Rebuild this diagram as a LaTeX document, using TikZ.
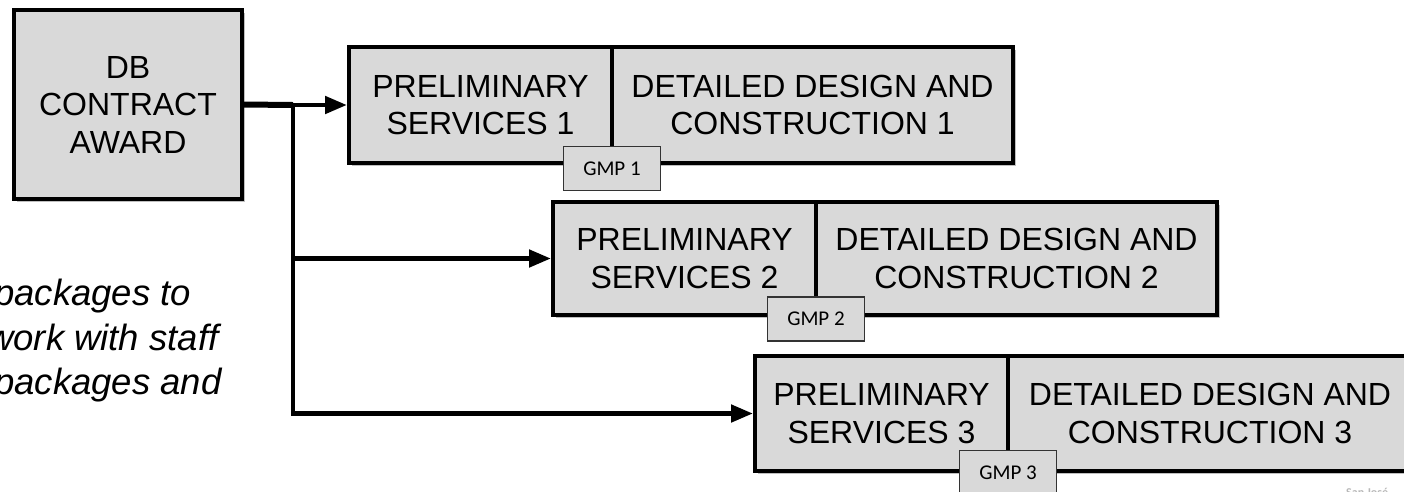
\documentclass[tikz,border=0pt]{standalone}
\usepackage{fontspec}
\setmainfont{Liberation Sans}
\newfontfamily\gmpfont{Carlito}
\usetikzlibrary{arrows.meta,shadows}
\definecolor{boxgray}{HTML}{D9D9D9}
\definecolor{logogray}{HTML}{B8B8B8}
\begin{document}
\begin{tikzpicture}[x=1pt,y=-1pt,
  phase/.style={draw=black, line width=4pt, fill=boxgray, inner sep=0pt, align=center,
    font=\fontsize{32}{37.5}\selectfont,
    drop shadow={shadow xshift=2.5pt, shadow yshift=-2.5pt, opacity=0.25, fill=black}},
  gmpbox/.style={draw=black!80, line width=1.2pt, fill=boxgray, inner sep=0pt,
    minimum width=97pt, minimum height=44pt, font=\gmpfont\fontsize{21}{25}\selectfont},
  conn/.style={line width=4.8pt, draw=black},
  arr/.style={conn, -{Triangle[length=22pt,width=17pt]}},
  note/.style={inner sep=0pt, anchor=base west, font=\itshape\fontsize{36.5}{44}\selectfont}
]
\useasboundingbox (0,0) rectangle (1404,491);
\fill[white] (0,0) rectangle (1404,491);
\clip (0,0) rectangle (1404,491);

% left note (cut by the page edge)
\node[note] (l1) at (-6,305) {packages to};
\node[note] (l2) at (-13,350) {work with staff};
\node[note] (l3) at (-6,394) {packages and};

% award box
\node[phase, line width=3.6pt, minimum width=228pt, minimum height=189pt] (db) at (128,104.5)
  {DB\\CONTRACT\\AWARD};

% package 1
\node[phase, minimum width=263pt, minimum height=116pt] (ps1) at (480.5,105)
  {PRELIMINARY\\SERVICES 1};
\node[phase, minimum width=401pt, minimum height=116pt] (dd1) at (812.5,105)
  {DETAILED DESIGN AND\\CONSTRUCTION 1};
% package 2
\node[phase, minimum width=263pt, minimum height=113pt] (ps2) at (684.5,258.5)
  {PRELIMINARY\\SERVICES 2};
\node[phase, minimum width=401pt, minimum height=113pt] (dd2) at (1016.5,258.5)
  {DETAILED DESIGN AND\\CONSTRUCTION 2};
% package 3
\node[phase, minimum width=253pt, minimum height=115pt] (ps3) at (881.5,413.5)
  {PRELIMINARY\\SERVICES 3};
\node[phase, minimum width=404pt, minimum height=115pt] (dd3) at (1210,413.5)
  {DETAILED DESIGN AND\\CONSTRUCTION 3};

% GMP tabs
\node[gmpbox] (gmp1) at (612,168.5) {GMP 1};
\node[gmpbox] (gmp2) at (816,319) {GMP 2};
\node[gmpbox] (gmp3) at (1008,472.5) {GMP 3};

% connectors
\coordinate (j1) at (293,105);
\coordinate (j2) at (j1 |- ps2.west);
\draw[conn, line width=6pt] (db.east) -- (j1);
\draw[arr] (j1) -- (ps1.west);
\draw[arr] (j1) -- (j1 |- ps3.west) -- (ps3.west);
\draw[arr] (j2) -- (ps2.west);

% logo remnant
\node[inner sep=0pt, anchor=base west, text=logogray, font=\gmpfont\bfseries\fontsize{12}{14}\selectfont] (logo) at (1346,496) {San José};
\end{tikzpicture}
\end{document}
